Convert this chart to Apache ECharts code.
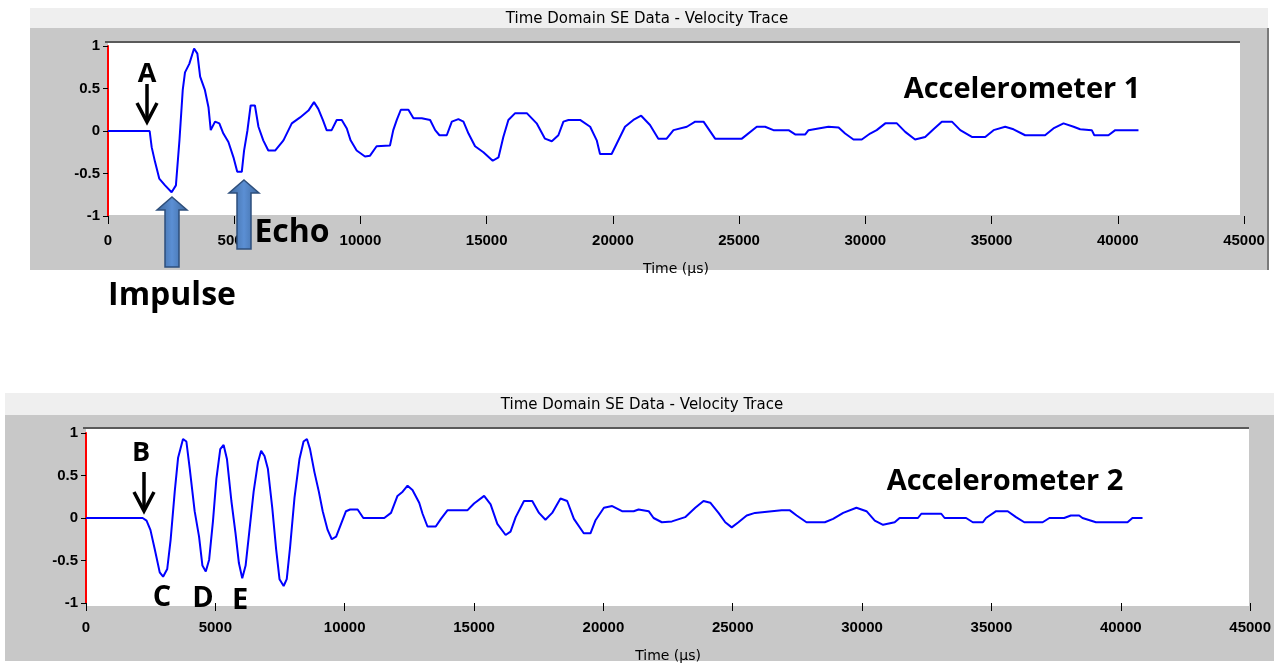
<!DOCTYPE html>
<html>
<head>
<meta charset="utf-8">
<script src="https://cdn.jsdelivr.net/npm/echarts@6/dist/echarts.min.js"></script>
<style>
  html, body { margin: 0; padding: 0; background: #ffffff; }
  #chart { width: 1274px; height: 664px; }
</style>
</head>
<body>
<div id="chart"></div>
<script>
// Velocity traces (time in microseconds, normalised velocity)
const timeAcc1 = [
  0, 1650, 1730, 1860, 2030, 2260, 2520, 2690, 2830, 2960,
  3050, 3220, 3410, 3540, 3650, 3840, 3980, 4070, 4240, 4410,
  4570, 4770, 4970, 5120, 5300, 5390, 5520, 5650, 5820, 5960,
  6150, 6350, 6620, 6950, 7280, 7610, 7940, 8160, 8330, 8510,
  8660, 8860, 9060, 9260, 9460, 9610, 9850, 10180, 10380, 10640,
  11170, 11300, 11440, 11600, 11900, 12100, 12430, 12760, 12960, 13130,
  13420, 13620, 13880, 14080, 14280, 14540, 14870, 15240, 15470, 15660,
  15860, 16130, 16590, 16980, 17310, 17580, 17840, 18040, 18240, 18700,
  19100, 19360, 19490, 19950, 20150, 20480, 20810, 21120, 21470, 21800,
  22130, 22400, 22930, 23260, 23590, 24050, 25110, 25700, 26030, 26360,
  26960, 27220, 27620, 27750, 28140, 28540, 28940, 29200, 29530, 29860,
  30190, 30450, 30790, 31250, 31580, 31970, 32370, 32700, 33030, 33430,
  33760, 34220, 34750, 35080, 35540, 35870, 36330, 37120, 37450, 37850,
  38250, 38510, 38970, 39070, 39630, 39900, 40820
];
const velAcc1 = [
  0, 0, -0.19, -0.36, -0.56, -0.64, -0.72, -0.64, -0.11, 0.48,
  0.69, 0.79, 0.97, 0.91, 0.64, 0.48, 0.28, 0.01, 0.11, 0.09,
  -0.03, -0.13, -0.31, -0.48, -0.48, -0.23, 0, 0.30, 0.30, 0.05,
  -0.11, -0.23, -0.23, -0.11, 0.09, 0.16, 0.24, 0.34, 0.26, 0.13,
  0.01, 0.01, 0.13, 0.13, 0.03, -0.11, -0.23, -0.30, -0.29, -0.18,
  -0.17, 0.01, 0.13, 0.25, 0.25, 0.15, 0.15, 0.13, 0.01, -0.05,
  -0.05, 0.11, 0.14, 0.11, -0.03, -0.18, -0.25, -0.35, -0.31, -0.07,
  0.13, 0.21, 0.21, 0.09, -0.09, -0.12, -0.05, 0.11, 0.13, 0.13,
  0.05, -0.11, -0.27, -0.27, -0.15, 0.05, 0.13, 0.18, 0.07, -0.09,
  -0.09, 0.01, 0.05, 0.11, 0.11, -0.09, -0.09, 0.05, 0.05, 0.01,
  0.01, -0.04, -0.04, 0.01, 0.03, 0.05, 0.04, -0.03, -0.10, -0.10,
  -0.03, 0.01, 0.09, 0.09, -0.01, -0.10, -0.07, 0.02, 0.11, 0.11,
  0.01, -0.07, -0.07, 0.01, 0.05, 0.02, -0.05, -0.05, 0.03, 0.09,
  0.05, 0.02, 0.01, -0.05, -0.05, 0.01, 0.01
];

const timeAcc2 = [
  0, 2190, 2340, 2490, 2660, 2850, 2980, 3140, 3270, 3430,
  3560, 3750, 3880, 4010, 4200, 4370, 4500, 4630, 4760, 4910,
  5040, 5190, 5320, 5450, 5620, 5780, 5910, 6040, 6170, 6320,
  6480, 6650, 6770, 6900, 7030, 7200, 7350, 7480, 7640, 7760,
  7890, 8060, 8250, 8410, 8540, 8660, 8830, 9000, 9150, 9340,
  9500, 9670, 9860, 10050, 10210, 10500, 10720, 11530, 11790, 12040,
  12240, 12430, 12620, 12880, 13010, 13200, 13520, 13720, 13970, 14420,
  14740, 15000, 15390, 15640, 15900, 16220, 16410, 16610, 16930, 17250,
  17510, 17760, 18020, 18340, 18600, 18860, 19240, 19500, 19690, 20020,
  20340, 20720, 21170, 21360, 21750, 21940, 22260, 22650, 23160, 23550,
  23870, 24130, 24450, 24710, 24960, 25220, 25540, 25860, 26510, 26890,
  27210, 27470, 27850, 28560, 28880, 29270, 29780, 30170, 30490, 30810,
  31260, 31450, 32160, 32290, 33060, 33190, 34020, 34280, 34670, 34790,
  35180, 35630, 35950, 36270, 36980, 37240, 37810, 38070, 38390, 38520,
  39040, 40260, 40450, 40840
];
const velAcc2 = [
  0, 0, -0.03, -0.14, -0.37, -0.64, -0.69, -0.60, -0.26, 0.31,
  0.71, 0.93, 0.90, 0.58, 0.08, -0.22, -0.56, -0.63, -0.49, -0.03,
  0.46, 0.81, 0.86, 0.69, 0.20, -0.18, -0.53, -0.71, -0.56, -0.14,
  0.31, 0.66, 0.79, 0.73, 0.58, 0.12, -0.37, -0.72, -0.80, -0.72,
  -0.34, 0.24, 0.69, 0.90, 0.93, 0.81, 0.54, 0.31, 0.08, -0.14,
  -0.25, -0.22, -0.07, 0.08, 0.10, 0.10, 0, 0, 0.06, 0.26,
  0.31, 0.38, 0.33, 0.18, 0.05, -0.10, -0.10, -0.01, 0.09, 0.09,
  0.09, 0.17, 0.26, 0.16, -0.07, -0.20, -0.16, 0.01, 0.20, 0.20,
  0.06, -0.02, 0.06, 0.23, 0.20, -0.01, -0.18, -0.18, -0.03, 0.12,
  0.14, 0.08, 0.08, 0.10, 0.08, 0, -0.05, -0.04, 0.01, 0.12,
  0.20, 0.18, 0.06, -0.05, -0.11, -0.05, 0.03, 0.06, 0.08, 0.09,
  0.09, 0.03, -0.05, -0.05, -0.01, 0.06, 0.12, 0.08, -0.03, -0.08,
  -0.05, 0, 0, 0.05, 0.05, 0, 0, -0.05, -0.05, 0,
  0.08, 0.08, 0.01, -0.05, -0.05, 0, 0, 0.03, 0.03, 0,
  -0.05, -0.05, 0, 0
];

const panelTitle = 'Time Domain SE Data - Velocity Trace';
const timeAxisName = 'Time (µs)';
const traceLabels = ['Accelerometer 1', 'Accelerometer 2'];

const zip = (xs, ys) => xs.map((x, i) => [x, ys[i]]);

const tickFont = { fontFamily: 'Liberation Sans', fontWeight: 'bold', fontSize: 15, color: '#000' };
const plainNumber = v => String(v);

function timeAxis(gridIndex) {
  return {
    type: 'value', gridIndex, min: 0, max: 45000, interval: 5000,
    position: 'bottom',
    axisLine: { show: false, onZero: false },
    axisTick: { show: true, length: 8, lineStyle: { color: '#000', width: 1 } },
    axisLabel: Object.assign({ margin: 17, formatter: plainNumber }, tickFont),
    splitLine: { show: false },
    name: timeAxisName, nameLocation: 'middle', nameGap: 46,
    nameTextStyle: { fontFamily: 'DejaVu Sans', fontSize: 14, color: '#000' }
  };
}
function velAxis(gridIndex) {
  return {
    type: 'value', gridIndex, min: -1, max: 1, interval: 0.5,
    axisLine: { show: true, onZero: false, lineStyle: { color: '#ff0000', width: 2 } },
    axisTick: { show: true, length: 5, lineStyle: { color: '#000', width: 1 } },
    axisLabel: Object.assign({ margin: 8, formatter: plainNumber }, tickFont),
    splitLine: { show: false }
  };
}

// Panel furniture: grey frames, title bands, white plot areas
function panel(x, y, w, h, bandH, plot, borderRight) {
  const els = [
    { type: 'rect', z: -20, shape: { x, y, width: w, height: bandH }, style: { fill: '#efefef' } },
    { type: 'rect', z: -20, shape: { x, y: y + bandH, width: w, height: h - bandH }, style: { fill: '#c8c8c8' } },
    { type: 'rect', z: -15, shape: plot, style: { fill: '#ffffff' } },
    { type: 'line', z: -14, shape: { x1: plot.x - 3, y1: plot.y, x2: plot.x + plot.width, y2: plot.y }, style: { stroke: '#5a5a5a', lineWidth: 2 } }
  ];
  if (borderRight) {
    els.push({ type: 'line', z: -14, shape: { x1: x + w, y1: y + bandH, x2: x + w, y2: y + h }, style: { stroke: '#7a7a7a', lineWidth: 2 } });
  }
  return els;
}

function label(text, x, y, size) {
  return {
    type: 'text', z: 100,
    style: {
      text, x, y, fill: '#000',
      font: 'bold ' + size + 'px "Open Sans"',
      align: 'center', verticalAlign: 'middle',
      textAlign: 'center', textVerticalAlign: 'middle'
    }
  };
}
function titleText(text, x, y) {
  return {
    type: 'text', z: 100,
    style: {
      text, x, y, fill: '#000', font: '15px "DejaVu Sans"',
      align: 'center', verticalAlign: 'middle',
      textAlign: 'center', textVerticalAlign: 'middle'
    }
  };
}
function downArrow(x, y1, y2) {
  return [
    { type: 'line', z: 100, shape: { x1: x, y1, x2: x, y2: y2 - 1 }, style: { stroke: '#000', lineWidth: 3.5 } },
    { type: 'polyline', z: 100, shape: { points: [[x - 10, y2 - 19], [x, y2], [x + 10, y2 - 19]] }, style: { stroke: '#000', lineWidth: 3.5, fill: null } }
  ];
}
function blockArrow(cx, tip, headBase, bottom) {
  return {
    type: 'polygon', z: 100,
    shape: { points: [
      [cx, tip], [cx + 15, headBase], [cx + 7, headBase], [cx + 7, bottom],
      [cx - 7, bottom], [cx - 7, headBase], [cx - 15, headBase]
    ] },
    style: {
      fill: new echarts.graphic.LinearGradient(0, 0, 1, 0, [
        { offset: 0, color: '#3d679c' }, { offset: 0.5, color: '#5b8fd4' }, { offset: 1, color: '#3d679c' }
      ]),
      stroke: '#2e4f7c', lineWidth: 1.5
    }
  };
}

const graphics = [].concat(
  panel(30, 8, 1238, 262, 20, { x: 108, y: 42, width: 1132, height: 173 }, true),
  panel(5, 393, 1269, 268, 22, { x: 86, y: 428, width: 1163, height: 178 }, false),
  [
    titleText(panelTitle, 647, 19),
    titleText(panelTitle, 642, 405),
    label(traceLabels[0], 1022, 90, 29),
    label(traceLabels[1], 1005, 482, 29),
    label('A', 147, 74, 27),
    label('B', 141, 453, 27),
    label('C', 162, 598, 29),
    label('D', 203, 599, 29),
    label('E', 240, 601, 29),
    label('Echo', 292, 233, 32),
    label('Impulse', 172, 296, 32),
    blockArrow(172, 197, 210, 267),
    blockArrow(244, 180, 193, 249)
  ],
  downArrow(147, 84, 122),
  downArrow(144, 472, 511)
);

const chart = echarts.init(document.getElementById('chart'), null, { renderer: 'canvas' });
chart.setOption({
  animation: false,
  backgroundColor: '#ffffff',
  grid: [
    { left: 108, top: 46, width: 1136, height: 170, show: false },
    { left: 86, top: 433, width: 1167, height: 175, show: false }
  ],
  xAxis: [timeAxis(0), timeAxis(1)],
  yAxis: [velAxis(0), velAxis(1)],
  series: [
    {
      name: traceLabels[0], type: 'line', xAxisIndex: 0, yAxisIndex: 0,
      data: zip(timeAcc1, velAcc1), showSymbol: false, silent: true,
      lineStyle: { color: '#0000ff', width: 2 }
    },
    {
      name: traceLabels[1], type: 'line', xAxisIndex: 1, yAxisIndex: 1,
      data: zip(timeAcc2, velAcc2), showSymbol: false, silent: true,
      lineStyle: { color: '#0000ff', width: 2 }
    }
  ],
  graphic: graphics
});
</script>
</body>
</html>
